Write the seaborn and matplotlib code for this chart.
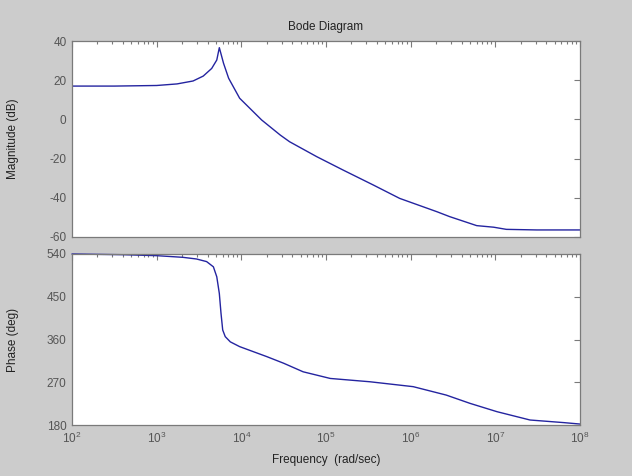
"""Bode diagram (magnitude / phase) redrawn in MATLAB style."""

import matplotlib

matplotlib.use("Agg")

import matplotlib.pyplot as plt
import matplotlib.ticker as ticker
import numpy as np
import pandas as pd
import seaborn as sns
from matplotlib.patches import Rectangle

# magnitude curve (log10 of rad/sec, dB)
mag_logw = [2.0, 2.5, 3.0, 3.24, 3.43, 3.55, 3.65, 3.71, 3.74, 3.79, 3.85, 3.98,
            4.24, 4.46, 4.57, 4.89, 5.20, 5.56, 5.87, 6.31, 6.46, 6.78, 6.98,
            7.13, 7.49, 8.0]
mag_db = [17.0, 17.0, 17.3, 18.1, 19.6, 22.1, 26.0, 30.3, 36.6, 28.6, 21.0, 10.8,
          -0.3, -8.0, -11.4, -19.0, -25.8, -33.5, -40.3, -47.1, -49.6, -54.2, -55.0,
          -56.1, -56.4, -56.4]

# phase curve (log10 of rad/sec, degrees)
phase_logw = [2.0, 2.61, 3.0, 3.31, 3.47, 3.59, 3.67, 3.71, 3.74, 3.76, 3.78,
              3.81, 3.87, 3.98, 4.30, 4.50, 4.73, 5.05, 5.52, 6.03, 6.42, 6.70,
              7.02, 7.41, 7.81, 8.0]
phase_deg = [540.0, 538.5, 536.5, 533.0, 529.5, 524.0, 513.0, 492.0, 457.0, 415.0,
             380.0, 366.0, 355.0, 345.0, 324.0, 310.0, 292.0, 278.0, 271.0, 260.7,
             243.0, 225.6, 208.0, 190.5, 185.0, 182.0]

mag_ticks = [-60, -40, -20, 0, 20, 40]
phase_ticks = [180, 270, 360, 450, 540]

LINE = "#2424a0"
GREY_TXT = "#555555"
SPINE = "#7a7a7a"

sns.set_style("white")
plt.rcParams["font.family"] = ["Liberation Sans", "DejaVu Sans"]
plt.rcParams["axes.unicode_minus"] = False

mag = pd.DataFrame({"w": 10 ** np.array(mag_logw), "db": mag_db})
phase = pd.DataFrame({"w": 10 ** np.array(phase_logw), "deg": phase_deg})

fig = plt.figure(figsize=(6.44, 4.76), dpi=100, facecolor="white")
fig.patches.append(Rectangle((0, 0), 632 / 644, 1, transform=fig.transFigure,
                             facecolor="#cccccc", edgecolor="none", zorder=-10))

ax1 = fig.add_axes([72 / 644, (476 - 237) / 476, 508 / 644, 196 / 476])
ax2 = fig.add_axes([72 / 644, (476 - 425) / 476, 508 / 644, 171 / 476])

sns.lineplot(data=mag, x="w", y="db", ax=ax1, color=LINE, linewidth=1.0,
             estimator=None, sort=True)
sns.lineplot(data=phase, x="w", y="deg", ax=ax2, color=LINE, linewidth=1.0,
             estimator=None, sort=True, clip_on=False)

for ax, ticks in ((ax1, mag_ticks), (ax2, phase_ticks)):
    ax.set_xscale("log")
    ax.set_xlim(1e2, 1e8)
    ax.set_ylim(ticks[0], ticks[-1])
    ax.set_yticks(ticks)
    ax.xaxis.set_major_locator(ticker.FixedLocator([1e2, 1e3, 1e4, 1e5, 1e6, 1e7, 1e8]))
    ax.xaxis.set_minor_locator(ticker.LogLocator(base=10, subs=np.arange(2, 10), numticks=20))
    ax.xaxis.set_minor_formatter(ticker.NullFormatter())
    ax.xaxis.set_major_formatter(ticker.LogFormatterSciNotation())
    ax.set_facecolor("white")
    for s in ax.spines.values():
        s.set_visible(True)
        s.set_color(SPINE)
        s.set_linewidth(0.9)
    ax.tick_params(which="both", direction="in", top=True, right=True,
                   color=SPINE, labelcolor=GREY_TXT, labelsize=8.5, width=0.8)
    ax.tick_params(which="major", length=4, pad=4)
    ax.tick_params(which="minor", length=2.5)
    ax.set_xlabel("")

ax1.tick_params(axis="x", which="both", labelbottom=False)
ax1.set_ylabel("Magnitude (dB)", fontsize=8.5, color="#222222")
ax2.set_ylabel("Phase (deg)", fontsize=8.5, color="#222222")
ax1.yaxis.set_label_coords(-0.105, 0.5)
ax2.yaxis.set_label_coords(-0.105, 0.5)
ax2.set_xlabel("Frequency  (rad/sec)", fontsize=8.5, color="#222222", labelpad=6)
ax1.set_title("Bode Diagram", fontsize=8.5, color="#222222", pad=8)

fig.savefig("out.png", dpi=100, facecolor=fig.get_facecolor())
plt.close(fig)
